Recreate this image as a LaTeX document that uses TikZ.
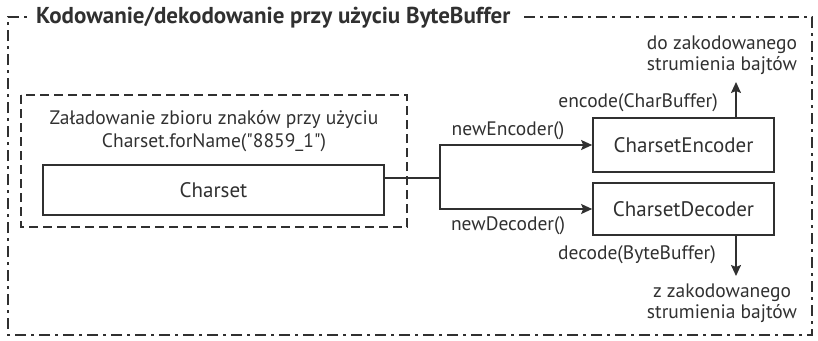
\documentclass[tikz,border=0pt]{standalone}
\usepackage{fontspec}
\setmainfont{PT Sans}[Ligatures=TeXOff]
\usetikzlibrary{arrows.meta}
\definecolor{ink}{HTML}{303030}
\tikzset{
  lbl/.style={text=ink, inner sep=0pt, font=\fontsize{19.5}{20.5}\selectfont},
  classbox/.style={draw=ink, line width=1.7pt, text=ink, inner sep=0pt,
    font=\fontsize{21}{24}\selectfont},
  flow/.style={draw=ink, line width=1.7pt, -{Stealth[length=11pt,width=10pt,inset=2pt]}},
  plain/.style={draw=ink, line width=1.7pt},
  frame/.style={draw=ink, line width=1.9pt, dash pattern=on 11pt off 5pt on 3pt off 5pt},
  group/.style={draw=ink, line width=2.3pt, dash pattern=on 9pt off 5pt},
}
\begin{document}
\begin{tikzpicture}[x=1pt, y=-1pt]
\useasboundingbox (0,0) rectangle (818,340);

% outer dash-dot frame with the title in its top edge
\draw[frame] (524,17) -- (812,17) -- (812,335) -- (8,335) -- (8,17) -- (30,17);
\node[anchor=west, text=ink, inner sep=0pt, font=\bfseries\fontsize{23}{26}\selectfont]
  (title) at (36,18) {Kodowanie/dekodowanie przy użyciu ByteBuffer};

% charset loading group
\draw[group] (21,95) rectangle (407,227);
\node[lbl, align=center] (load) at (214,131)
  {Załadowanie zbioru znaków przy użyciu\\[2.5pt]Charset.forName("8859\_1")};
\node[classbox, minimum width=341pt, minimum height=50pt] (charset) at (213.5,190) {Charset};

% encoder and decoder
\node[classbox, minimum width=181pt, minimum height=54pt] (enc) at (683.5,145) {CharsetEncoder};
\node[classbox, minimum width=181pt, minimum height=52pt] (dec) at (683.5,209) {CharsetDecoder};

% branching connector
\coordinate (j) at (440,178);
\draw[plain] (charset.east |- j) -- (j);
\draw[flow] (j) |- (enc.west);
\draw[flow] (j) |- (dec.west);
\node[lbl] (newenc) at (508,131) {newEncoder()};
\node[lbl] (newdec) at (508,226) {newDecoder()};

% output stream
\coordinate (up) at (736,82);
\draw[flow] (enc.north -| up) -- (up);
\node[lbl, anchor=east] (encode) at (718,103) {encode(CharBuffer)};
\node[lbl, align=center] (tostream) at (722,55)
  {do zakodowanego\\strumienia bajtów};

% input stream
\coordinate (down) at (736,276);
\draw[flow] (dec.south -| down) -- (down);
\node[lbl, anchor=east] (decode) at (716,255) {decode(ByteBuffer)};
\node[lbl, align=center] (fromstream) at (722,303)
  {z zakodowanego\\strumienia bajtów};
\end{tikzpicture}
\end{document}
